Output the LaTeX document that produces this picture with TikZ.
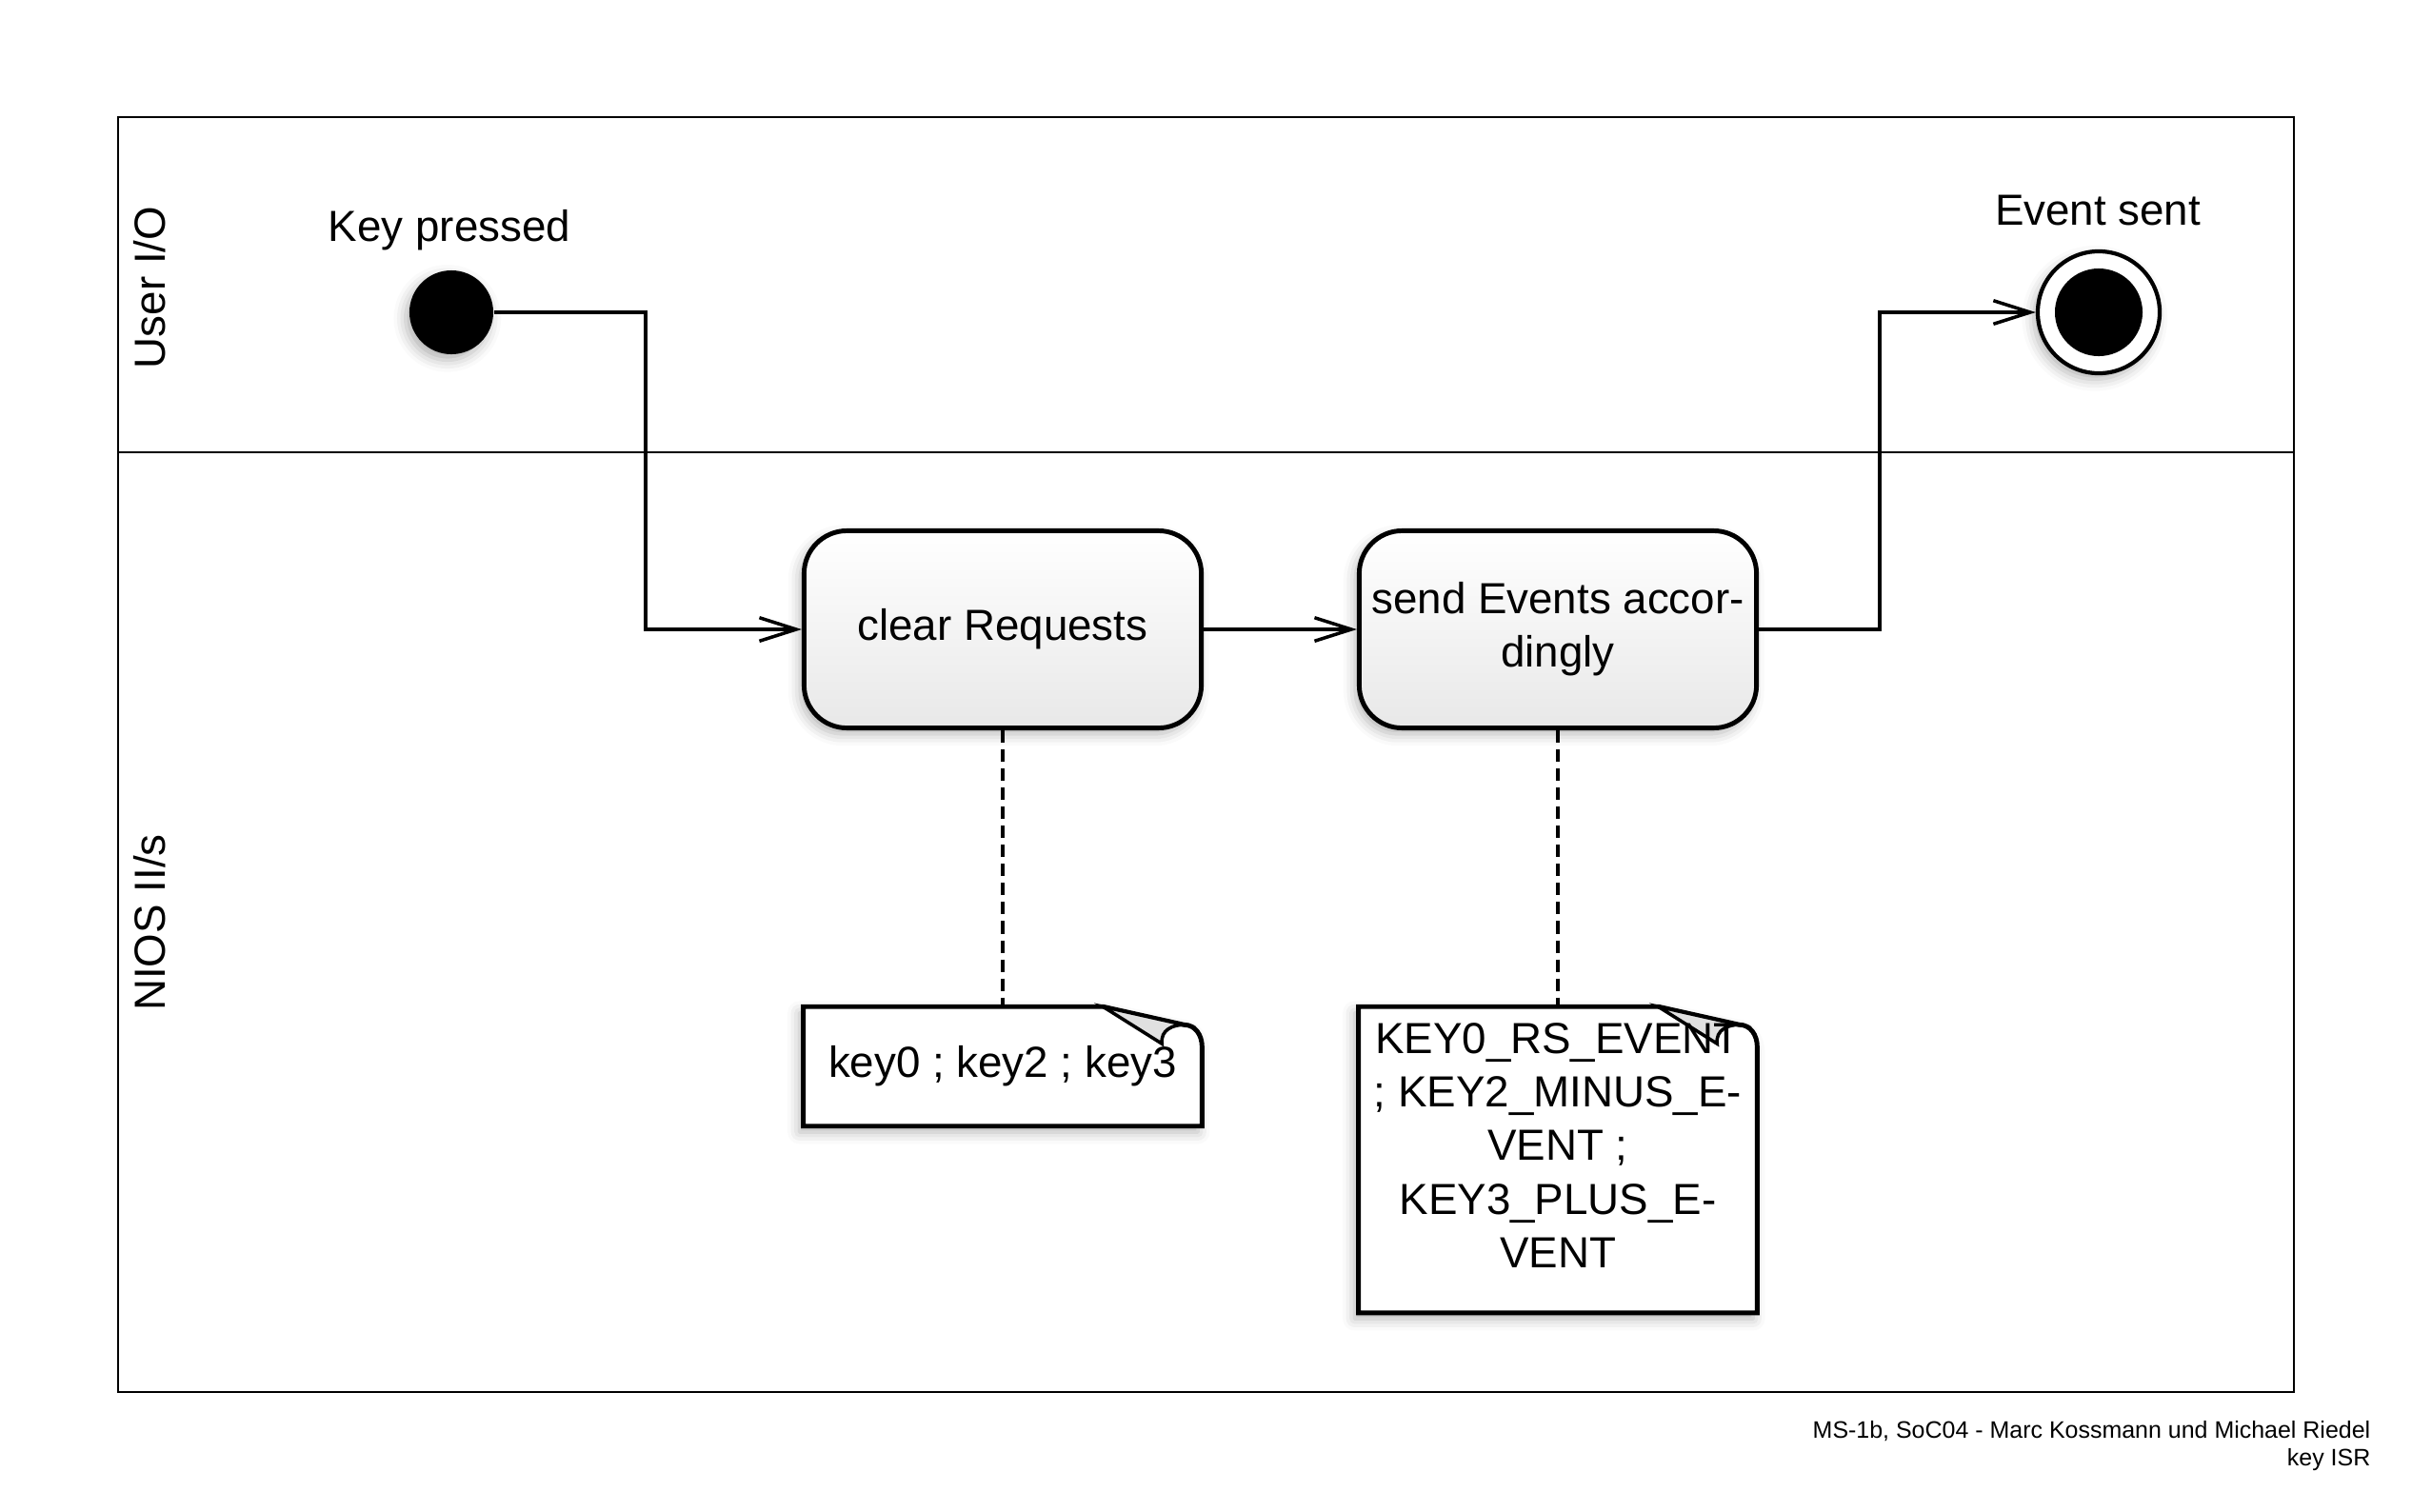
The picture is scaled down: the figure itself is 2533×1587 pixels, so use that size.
\documentclass[tikz,border=0pt]{standalone}
\usepackage{fontspec}
\setmainfont{Liberation Sans}
\usetikzlibrary{calc, arrows.meta, shadows.blur, backgrounds}

\begin{document}
\begin{tikzpicture}[x=0.01cm, y=-0.01cm,
    every node/.style={font=\fontsize{13}{16}\selectfont},
    lane/.style={line width=0.6pt},
    soft shadow/.style={blur shadow={shadow xshift=-1.2pt, shadow yshift=-1.8pt, shadow blur radius=3.5pt, shadow opacity=30}},
    actbox/.style={draw, line width=1.4pt, rounded corners=0.45cm, minimum width=4.17cm, minimum height=2.07cm, align=center, top color=white, bottom color=black!9, soft shadow},
    notebox/.style={minimum width=4.17cm, align=center, inner sep=0pt},
    notepath/.style={draw, line width=1.4pt, fill=white, soft shadow},
    flap/.style={draw, line width=1pt, fill=black!12},
    startstate/.style={circle, fill, minimum size=0.88cm, inner sep=0pt, soft shadow},
    endstate/.style={circle, draw, line width=1.2pt, fill=white, minimum size=1.28cm, inner sep=0pt, soft shadow},
    flow/.style={line width=1pt, -{Straight Barb[length=11pt, width=7pt, line width=1pt]}},
    link/.style={line width=0.9pt, dash pattern=on 3.7pt off 2pt},
    footer/.style={font=\fontsize{7.1}{8.5}\selectfont, inner sep=0pt, anchor=east}]
    \useasboundingbox (0,0) rectangle (2533,1587);
    \draw[lane] (124,123) rectangle (2409,1462);
    \draw[lane] (124,475) -- (2409,475);
    \node[rotate=90] (userLane) at (157,302) {User I/O};
    \node[rotate=90] (niosLane) at (157,969) {NIOS II/s};

    \node[startstate] (start) at (474,328) {};
    \node (keyLbl) at (472,242) {Key pressed};
    \node[endstate] (final) at (2204,328) {};
    \fill (final) circle (0.46cm);
    \node (sentLbl) at (2203,221) {Event sent};
    \node[actbox] (clear) at (1053,661) {clear Requests};
    \node[actbox] (send) at (1636,661) {send Events accor-\\dingly};
    \node[notebox, minimum height=1.24cm] (keys) at (1053,1120) {key0 ; key2 ; key3};
    \node[notebox, minimum height=3.20cm] (events) at (1636,1218) {KEY0\_RS\_EVENT\\; KEY2\_MINUS\_E-\\VENT ;\\KEY3\_PLUS\_E-\\VENT\rule[-0.3cm]{0pt}{0pt}};

    \begin{pgfonlayer}{background}
        \foreach \n in {keys, events} {
            \draw[notepath] (\n.south west) -- (\n.north west) -- ($(\n.north east)+(-104,0)$) -- ($(\n.north east)+(-19,19)$)
                .. controls ($(\n.north east)+(-7,19)$) and ($(\n.north east)+(0,30)$) .. ($(\n.north east)+(0,42)$) -- (\n.south east) -- cycle;
            \draw[flap] ($(\n.north east)+(-104,0)$) -- ($(\n.north east)+(-42,39)$)
                .. controls ($(\n.north east)+(-44,24)$) and ($(\n.north east)+(-30,19)$) .. ($(\n.north east)+(-19,19)$) -- cycle;
        }
    \end{pgfonlayer}

    \coordinate (bendA) at (678,661);
    \coordinate (bendB) at (1974,328);
    \draw[flow] (start) -| (bendA) |- (clear);
    \draw[flow] (clear) -- (send);
    \draw[flow] (send) -| (bendB) |- (final);
    \draw[link] (clear) -- (keys);
    \draw[link] (send) -- (events);

    \node[footer] (credit) at (2490,1503) {MS-1b, SoC04 - Marc Kossmann und Michael Riedel};
    \node[footer] (title) at (2490,1533) {key ISR};
\end{tikzpicture}
\end{document}
